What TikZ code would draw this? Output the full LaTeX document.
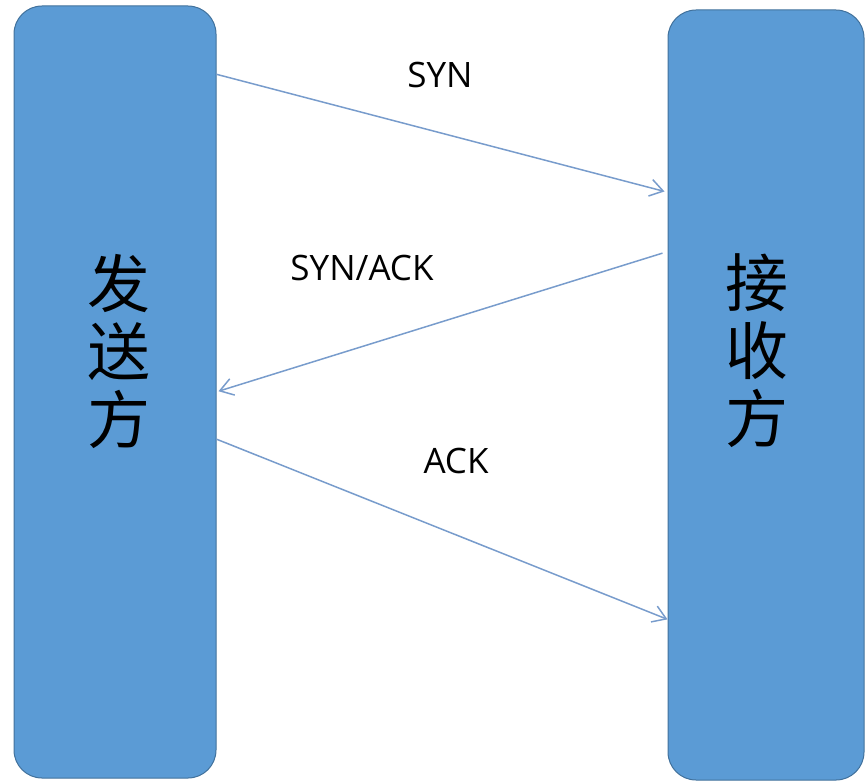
\documentclass[tikz,border=0pt]{standalone}
\usepackage{fontspec}
\setmainfont{Open Sans}
\newfontfamily\cjk{Noto Sans CJK SC}
\usetikzlibrary{arrows.meta, positioning, calc}
\definecolor{boxblue}{HTML}{5B9BD5}
\definecolor{boxline}{HTML}{41719C}
\definecolor{msgline}{RGB}{120,156,204}

\begin{document}
\begin{tikzpicture}[x=1pt, y=-1pt,
        P/.style={draw=boxline, line width=1pt, fill=boxblue, rounded corners=28pt, inner sep=0pt},
        lab/.style={font=\cjk\fontsize{63}{68}\selectfont, align=center, inner sep=0pt},
        msg/.style={draw=msgline, line width=1.5pt, -{Straight Barb[length=13pt, width=17pt, line width=1.5pt]}},
        txt/.style={font=\fontsize{35}{40}\selectfont, inner sep=0pt}
      ]
        \useasboundingbox (0,0) rectangle (866,781);
        % the two parties
        \node[P, minimum width=202pt, minimum height=772pt] (snd) at (115,392) {};
        \node[P, minimum width=196pt, minimum height=770pt] (rcv) at (766,395) {};
        \node[lab] (sndt) at (119,351) {发\\送\\方};
        \node[lab] (rcvt) at (757,351) {接\\收\\方};
        % handshake messages
        \draw[msg] ($(snd.north east)!0.089!(snd.south east)$) -- ($(rcv.north west)!0.236!(rcv.south west)+(-3,0)$);
        \draw[msg] ($(rcv.north west)!0.316!(rcv.south west)+(-5,0)$) -- ($(snd.north east)!0.499!(snd.south east)+(2,0)$);
        \draw[msg] ($(snd.north east)!0.561!(snd.south east)$) -- ($(rcv.north west)!0.791!(rcv.south west)$);
        % labels
        \node[txt] (syn) at (440,75) {SYN};
        \node[txt] (synack) at (362,268) {SYN/ACK};
        \node[txt] (ack) at (456,461) {ACK};
      \end{tikzpicture}
\end{document}
